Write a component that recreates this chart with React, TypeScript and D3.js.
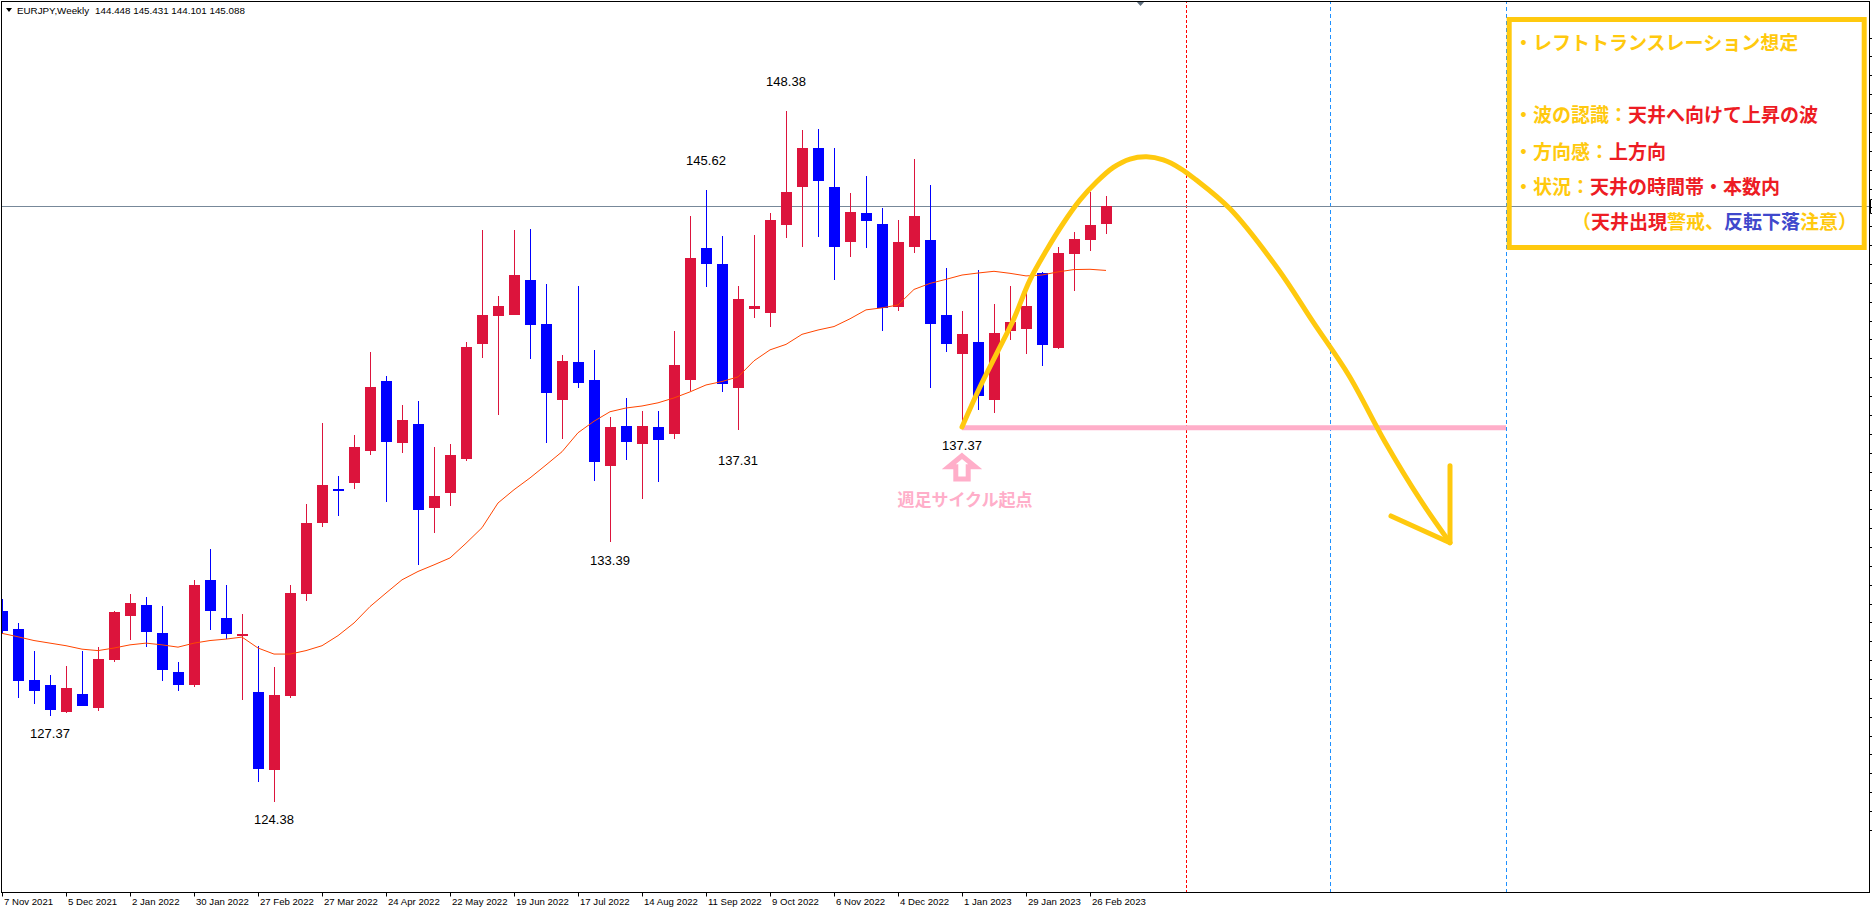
import React from "react";
import * as d3 from "d3";

const W = 1872;
const H = 914;

// ---- header / axis texts ----
const headerText = "EURJPY,Weekly  144.448 145.431 144.101 145.088";
const dateLabels = [
  "7 Nov 2021", "5 Dec 2021", "2 Jan 2022", "30 Jan 2022", "27 Feb 2022", "27 Mar 2022",
  "24 Apr 2022", "22 May 2022", "19 Jun 2022", "17 Jul 2022", "14 Aug 2022", "11 Sep 2022",
  "9 Oct 2022", "6 Nov 2022", "4 Dec 2022", "1 Jan 2023", "29 Jan 2023", "26 Feb 2023",
];
const dateLabelIndex = [0, 4, 8, 12, 16, 20, 24, 28, 32, 36, 40, 44, 48, 52, 56, 60, 64, 68];

// ---- weekly OHLC (7 Nov 2021 .. 5 Mar 2023) ----
const opens = [
  131.01, 130.39, 128.62, 128.44, 127.5, 128.13, 127.65, 129.31, 130.82, 131.22,
  130.25, 128.89, 128.42, 132.09, 130.77, 130.15, 128.2, 125.47, 128.06, 131.58,
  134.05, 135.25, 135.47, 136.58, 139.0, 136.86, 137.51, 134.57, 135.09, 136.3,
  140.3, 141.24, 141.3, 142.51, 140.98, 138.35, 139.65, 139.04, 136.03, 137.44,
  136.82, 137.4, 137.14, 139.05, 143.62, 143.07, 138.77, 141.51, 141.37, 144.43,
  145.75, 147.09, 145.74, 143.84, 144.84, 144.46, 141.58, 143.67, 143.9, 141.29,
  139.92, 140.36, 138.35, 140.75, 140.82, 142.75, 140.16, 143.42, 143.91, 144.448,
];
const highs = [
  131.43, 130.6, 129.63, 128.79, 129.1, 129.63, 129.76, 131.01, 131.6, 131.5,
  131.19, 129.24, 132.09, 133.17, 131.92, 130.91, 129.8, 129.07, 131.92, 134.73,
  137.54, 135.7, 137.13, 140.01, 139.18, 138.17, 138.31, 136.71, 136.81, 140.35,
  144.25, 141.95, 144.25, 144.28, 142.37, 139.91, 142.3, 140.08, 137.75, 138.41,
  137.96, 137.96, 140.74, 144.73, 145.62, 144.04, 142.3, 144.07, 144.84, 148.38,
  147.72, 147.75, 147.09, 145.53, 146.12, 145.01, 144.59, 146.71, 145.81, 142.93,
  141.43, 142.86, 141.68, 142.3, 142.34, 142.8, 143.66, 144.18, 145.57, 145.431,
];
const lows = [
  130.2, 127.97, 127.78, 127.37, 127.46, 127.7, 127.52, 129.25, 130.01, 129.77,
  128.56, 128.24, 128.38, 130.35, 130.04, 127.9, 125.05, 124.38, 127.97, 131.37,
  133.94, 134.29, 135.26, 136.44, 134.78, 136.48, 132.61, 133.73, 134.64, 136.23,
  139.81, 137.8, 141.28, 139.78, 136.86, 137.0, 138.77, 135.54, 133.39, 136.27,
  134.91, 135.5, 137.0, 138.65, 142.28, 138.62, 137.31, 141.17, 140.89, 143.98,
  143.67, 144.01, 142.52, 143.32, 143.63, 140.75, 141.44, 143.46, 138.77, 139.99,
  137.37, 137.99, 137.9, 140.44, 139.92, 139.53, 140.12, 142.14, 143.53, 144.101,
];
const closes = [
  130.32, 128.59, 128.24, 127.58, 128.34, 127.72, 129.35, 130.98, 131.29, 130.29,
  128.94, 128.45, 131.92, 131.02, 130.19, 130.21, 125.5, 128.1, 131.64, 134.07,
  135.39, 135.16, 136.71, 138.79, 136.89, 137.65, 134.5, 135.01, 136.43, 140.18,
  141.29, 141.61, 142.68, 140.96, 138.57, 139.69, 138.94, 136.2, 137.4, 136.89,
  137.44, 136.96, 139.56, 143.27, 143.08, 138.91, 141.85, 141.61, 144.59, 145.57,
  147.09, 145.96, 143.67, 144.87, 144.57, 141.55, 143.83, 144.73, 140.99, 140.3,
  140.63, 138.46, 140.67, 141.05, 141.61, 140.26, 143.45, 143.93, 144.42, 145.088,
];
// moving average
const maValues = [
  130.23, 130.11, 129.98, 129.89, 129.8, 129.68, 129.63, 129.72, 129.83, 129.89,
  129.83, 129.75, 129.89, 129.98, 130.03, 130.1, 129.72, 129.51, 129.51, 129.63,
  129.8, 130.15, 130.59, 131.16, 131.63, 132.09, 132.38, 132.61, 132.85, 133.36,
  133.9, 134.76, 135.22, 135.63, 136.08, 136.54, 137.2, 137.6, 137.93, 138.06,
  138.13, 138.24, 138.41, 138.62, 138.86, 138.98, 139.14, 139.7, 140.08, 140.27,
  140.62, 140.77, 140.89, 141.16, 141.47, 141.54, 141.64, 142.18, 142.39, 142.53,
  142.68, 142.75, 142.81, 142.74, 142.65, 142.68, 142.79, 142.87, 142.88, 142.84,
];

// ---- high / low labels ----
const highLabelIdx = [49, 44];
const lowLabelIdx = [3, 17, 38, 46, 60];

// ---- annotations ----
const lastPrice = 145.088;
const cycleStartIdx = 60;
const cycleStartPrice = 137.37;
const cycleEndIdx = 94;
const redMarkerIdx = [74];
const blueMarkerIdx = [83, 94];
const projectionIdx = [60, 61.13, 62.17, 63.21, 64.25, 65.29, 66.33, 67.38, 68.42, 69.46, 70.5, 71.54, 72.58, 73.63, 74.6, 76.75, 79.75, 81.94, 84.19, 86.44, 88.69, 90.5];
const projectionPrice = [137.4, 138.8, 139.96, 141.12, 142.51, 143.55, 144.48, 145.29, 145.92, 146.42, 146.71, 146.79, 146.68, 146.39, 146.0, 144.98, 142.89, 141.05, 139.18, 136.88, 134.83, 133.38];
const arrowHeadIdx = [86.81, 90.5, 90.5];
const arrowHeadPrice = [134.31, 133.38, 136.05];
const priceTicks = d3.range(150.93, 123.3, -0.6555);

const YELLOW = "#FFC90E";
const RED = "#ED1C24";
const BLUE = "#3F48CC";
const PINK = "#FFAEC9";

const boxLines: { t: string; c: string }[][] = [
  [{ t: "・レフトトランスレーション想定", c: YELLOW }],
  [{ t: "・波の認識：", c: YELLOW }, { t: "天井へ向けて上昇の波", c: RED }],
  [{ t: "・方向感：", c: YELLOW }, { t: "上方向", c: RED }],
  [{ t: "・状況：", c: YELLOW }, { t: "天井の時間帯・本数内", c: RED }],
  [
    { t: "（", c: YELLOW },
    { t: "天井出現", c: RED },
    { t: "警戒、", c: YELLOW },
    { t: "反転下落", c: BLUE },
    { t: "注意", c: YELLOW },
    { t: "）", c: YELLOW },
  ],
];
const boxLineX = [1514, 1514, 1514, 1514, 1572];
const boxLineY = [50, 122, 159, 194, 229];

const AXIS_Y = 892.5;

export default function App() {
  const x = d3.scaleLinear().domain([0, 69]).range([2, 1106]);
  const y = d3.scaleLinear().domain([124.38, 148.38]).range([801.7, 111]);

  const maLine = d3
    .line<number>()
    .x((_, i) => x(i))
    .y((d) => y(d))(maValues) as string;

  const projPts: [number, number][] = projectionIdx.map((k, i) => [x(k), y(projectionPrice[i])]);
  const projPath = d3.line().curve(d3.curveCatmullRom.alpha(0.5))(projPts) as string;
  const headPts: [number, number][] = arrowHeadIdx.map((k, i) => [x(k), y(arrowHeadPrice[i])]);
  const headPath = d3.line()(headPts) as string;

  const fontSmall = "'Liberation Sans', Arial, sans-serif";
  const fontJP = "'Noto Sans CJK JP', 'Noto Sans', sans-serif";

  const cx0 = x(cycleStartIdx);
  const cy0 = y(cycleStartPrice);
  const lastY = Math.round(y(lastPrice));

  return (
    <svg
      width={W}
      height={H}
      style={{ position: "absolute", left: 0, top: 0, display: "block", background: "#fff" }}
    >
      <defs>
        <clipPath id="plot">
          <rect x={2} y={2} width={1867} height={AXIS_Y - 2.5} />
        </clipPath>
      </defs>
      <rect x={0} y={0} width={W} height={H} fill="#fff" />

      <g clipPath="url(#plot)">
        {/* vertical marker lines */}
        {redMarkerIdx.map((k) => (
          <line key={"r" + k} x1={Math.round(x(k)) + 0.5} x2={Math.round(x(k)) + 0.5} y1={0} y2={AXIS_Y}
            stroke="#FF0000" strokeWidth={1} strokeDasharray="3,2" />
        ))}
        {blueMarkerIdx.map((k) => (
          <line key={"b" + k} x1={Math.round(x(k)) + 0.5} x2={Math.round(x(k)) + 0.5} y1={0} y2={AXIS_Y}
            stroke="#1E90FF" strokeWidth={1} strokeDasharray="4,3" />
        ))}

        {/* current price line */}
        <line x1={0} x2={1869} y1={lastY + 0.5} y2={lastY + 0.5} stroke="#778899" strokeWidth={1} />

        {/* candles */}
        {opens.map((o, i) => {
          const c = closes[i];
          const up = c >= o;
          const col = up ? "#DC143C" : "#0000FF";
          const cx = Math.round(x(i));
          const top = Math.round(y(Math.max(o, c)));
          const bot = Math.round(y(Math.min(o, c)));
          const hy = Math.round(y(highs[i]));
          const ly = Math.round(y(lows[i]));
          return (
            <g key={i}>
              <rect x={cx} y={hy} width={1} height={ly - hy} fill={col} />
              <rect x={cx - 5} y={top} width={11} height={Math.max(2, bot - top)} fill={col} />
            </g>
          );
        })}

        {/* moving average */}
        <path d={maLine} fill="none" stroke="#FF4500" strokeWidth={1} />

        {/* high / low labels */}
        {highLabelIdx.map((k) => (
          <text key={"h" + k} x={x(k)} y={y(highs[k]) - 25} textAnchor="middle"
            fontFamily={fontSmall} fontSize={13} fill="#000">
            {highs[k].toFixed(2)}
          </text>
        ))}
        {lowLabelIdx.map((k) => (
          <text key={"l" + k} x={x(k)} y={y(lows[k]) + (k === 46 ? 35 : 22.5)} textAnchor="middle"
            fontFamily={fontSmall} fontSize={13} fill="#000">
            {lows[k].toFixed(2)}
          </text>
        ))}

        {/* weekly cycle start: pink line, arrow, label */}
        <line x1={cx0} x2={x(cycleEndIdx)} y1={cy0} y2={cy0} stroke={PINK} strokeWidth={5} />
        <path
          d={`M${cx0},${cy0 + 28} L${cx0 + 13.3},${cy0 + 39} L${cx0 + 6.2},${cy0 + 39} L${cx0 + 6.2},${cy0 + 51.2} L${cx0 - 6.2},${cy0 + 51.2} L${cx0 - 6.2},${cy0 + 39} L${cx0 - 13.3},${cy0 + 39} Z`}
          fill="#fff" stroke={PINK} strokeWidth={5} strokeLinejoin="miter"
        />
        <text x={cx0 + 3} y={cy0 + 78} textAnchor="middle" fontFamily={fontJP} fontWeight="bold"
          fontSize={17} fill={PINK}>
          週足サイクル起点
        </text>

        {/* projected path */}
        <path d={projPath} fill="none" stroke={YELLOW} strokeWidth={5} strokeLinecap="round" />
        <path d={headPath} fill="none" stroke={YELLOW} strokeWidth={5} strokeLinecap="round" strokeLinejoin="round" />
      </g>

      {/* comment box */}
      <rect x={1509.2} y={19.5} width={355} height={228} fill="none" stroke={YELLOW} strokeWidth={5} />
      {boxLines.map((segs, li) => (
        <text key={li} x={boxLineX[li]} y={boxLineY[li]} fontFamily={fontJP} fontWeight="bold" fontSize={19}>
          {segs.map((s, si) => (
            <tspan key={si} fill={s.c}>{s.t}</tspan>
          ))}
        </text>
      ))}

      {/* header */}
      <path d="M6,8 L12,8 L9,12 Z" fill="#000" />
      <text x={17} y={13.5} fontFamily={fontSmall} fontSize={9.8} fill="#000">
        {headerText.split("  ")[0]}
        <tspan dx={6}>{headerText.split("  ")[1]}</tspan>
      </text>
      {/* chart shift marker */}
      <path d="M1136,1 L1145,1 L1140.5,6 Z" fill="#5F6F7F" />

      {/* frame */}
      <line x1={1.5} x2={1.5} y1={1} y2={AXIS_Y + 0.5} stroke="#000" />
      <line x1={1} x2={1870} y1={1.5} y2={1.5} stroke="#000" />
      <line x1={1869.5} x2={1869.5} y1={1} y2={AXIS_Y + 0.5} stroke="#000" />
      <line x1={1} x2={1870} y1={AXIS_Y} y2={AXIS_Y} stroke="#000" />

      {/* right price ticks */}
      {priceTicks.map((p, i) => (
        <line key={"pt" + i} x1={1870} x2={1873} y1={Math.round(y(p)) + 0.5} y2={Math.round(y(p)) + 0.5} stroke="#000" />
      ))}
      <path d={`M1873,${lastY - 6.5} L1870.5,${lastY - 6.5} L1870.5,${lastY + 7.5} L1873,${lastY + 7.5}`} fill="none" stroke="#000" />

      {/* time axis */}
      {dateLabelIndex.map((k, i) => {
        const tx = Math.round(x(k)) + 0.5;
        return (
          <g key={"d" + k}>
            <line x1={tx} x2={tx} y1={AXIS_Y} y2={AXIS_Y + 4} stroke="#000" />
            <text x={tx + 1.5} y={905} fontFamily={fontSmall} fontSize={9.6} fill="#000">
              {dateLabels[i]}
            </text>
          </g>
        );
      })}
    </svg>
  );
}
